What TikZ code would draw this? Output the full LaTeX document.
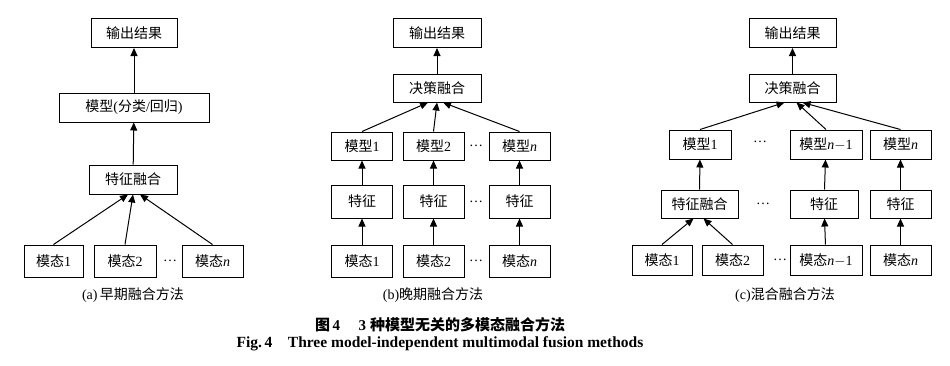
\documentclass[tikz,border=0pt]{standalone}
\usepackage{fontspec}
\setmainfont{Liberation Serif}
\newfontfamily\cjk{Noto Sans CJK SC}
\usetikzlibrary{arrows.meta,positioning}
\newcommand\zh[1]{{\cjk #1}}

\begin{document}
\begin{tikzpicture}[x=1pt,y=-1pt,
    box/.style={draw, line width=1pt, minimum width=#1, minimum height=29pt, inner sep=0pt, font=\fontsize{14}{16}\selectfont},
    box/.default=61pt,
    arr/.style={-{Triangle[length=8pt,width=7pt]}, line width=1pt},
    txt/.style={font=\fontsize{14}{16}\selectfont}
  ]
    \useasboundingbox (0,0) rectangle (950,365);
    % (a) early fusion
    \node[box=86pt] (aout) at (134,33) {\zh{输出结果}};
    \node[box=150pt] (amod) at (134,107.5) {\zh{模型}(\zh{分类}/\zh{回归})};
    \node[box=88pt] (afus) at (133,179.5) {\zh{特征融合}};
    \node[box=59pt,minimum height=32pt] (amod1) at (53.5,261) {\zh{模态}1};
    \node[box=62pt,minimum height=32pt] (amod2) at (125,261) {\zh{模态}2};
    \node[box=61pt,minimum height=32pt] (amodn) at (212.5,261) {\zh{模态}\textit{n}};
    \node[txt] (adots) at (170,261) {\ldots};
    \draw[arr] (amod1.north) -- ([xshift=-5pt]afus.south);
    \draw[arr] (amod2.north) -- (afus.south);
    \draw[arr] (amodn.north) -- ([xshift=7pt]afus.south);
    \draw[arr] (afus) -- (amod);
    \draw[arr] (amod) -- (aout);
    \node[txt] (acap) at (133,295) {(a)\,\zh{早期融合方法}};

    % (b) late fusion
    \node[box=88pt] (bout) at (437,33) {\zh{输出结果}};
    \node[box=88pt,minimum height=28pt] (bdec) at (437,88) {\zh{决策融合}};
    \foreach \i/\x/\s in {1/362/1, 2/433.5/2, n/519.5/\textit{n}} {
      \node[box,minimum height=28pt] (bmod\i) at (\x,146) {\zh{模型}\s};
      \node[box,minimum height=33pt] (bfeat\i) at (\x,201.5) {\zh{特征}};
      \node[box,minimum height=32pt] (bmodal\i) at (\x,261) {\zh{模态}\s};
      \draw[arr] (bmodal\i) -- (bfeat\i);
      \draw[arr] (bfeat\i) -- (bmod\i);
    }
    \node[txt] (bdots1) at (476,146) {\ldots};
    \node[txt] (bdots2) at (476,201.5) {\ldots};
    \node[txt] (bdots3) at (476,261) {\ldots};
    \draw[arr] (bmod1.north) -- ([xshift=-9pt]bdec.south);
    \draw[arr] (bmod2.north) -- (bdec.south);
    \draw[arr] (bmodn.north) -- ([xshift=6pt]bdec.south);
    \draw[arr] (bdec) -- (bout);
    \node[txt] (bcap) at (433,295) {(b)\zh{晚期融合方法}};

    % (c) hybrid fusion
    \node[box=87pt] (cout) at (792.5,33) {\zh{输出结果}};
    \node[box=87pt,minimum height=28pt] (cdec) at (792.5,88) {\zh{决策融合}};
    \node[box=62pt] (cmod1) at (700,144.5) {\zh{模型}1};
    \node[box=72pt] (cmodn1) at (826,144.5) {\zh{模型}\textit{n}$-$1};
    \node[box=61pt] (cmodn) at (900.5,144.5) {\zh{模型}\textit{n}};
    \node[box=77pt,minimum height=28pt] (cfus) at (699.5,204) {\zh{特征融合}};
    \node[box=68pt,minimum height=28pt] (cfeatn1) at (824,204) {\zh{特征}};
    \node[box=61pt,minimum height=28pt] (cfeatn) at (900.5,204) {\zh{特征}};
    \node[box=60pt,minimum height=30pt] (cmodal1) at (662,260) {\zh{模态}1};
    \node[box=61pt,minimum height=30pt] (cmodal2) at (732.5,260) {\zh{模态}2};
    \node[box=72pt,minimum height=30pt] (cmodaln1) at (826,260) {\zh{模态}\textit{n}$-$1};
    \node[box=61pt,minimum height=30pt] (cmodaln) at (900.5,260) {\zh{模态}\textit{n}};
    \node[txt] (cdots1) at (760,142) {\ldots};
    \node[txt] (cdots2) at (763,204) {\ldots};
    \node[txt] (cdots3) at (780,260) {\ldots};
    \draw[arr] (cmodal1.north) -- ([xshift=-6pt]cfus.south);
    \draw[arr] (cmodal2.north) -- ([xshift=4pt]cfus.south);
    \draw[arr] (cmodaln1) -- (cfeatn1);
    \draw[arr] (cmodaln) -- (cfeatn);
    \draw[arr] (cfus) -- (cmod1);
    \draw[arr] (cfeatn1) -- (cmodn1);
    \draw[arr] (cfeatn) -- (cmodn);
    \draw[arr] (cmod1.north) -- ([xshift=-8pt]cdec.south);
    \draw[arr] (cmodn1.north) -- ([xshift=4pt]cdec.south);
    \draw[arr] (cmodn.north) -- ([xshift=10pt]cdec.south);
    \draw[arr] (cdec) -- (cout);
    \node[txt] (ccap) at (785,295) {(c)\zh{混合融合方法}};

    % figure caption
    \node[font=\fontsize{15}{17}\selectfont\bfseries] (title) at (440,325) {\zh{图}\,4\quad\ 3\ \zh{种模型无关的多模态融合方法}};
    \node[font=\fontsize{15.5}{17}\selectfont\bfseries] (titleen) at (440,344) {Fig.\,4\quad Three model-independent multimodal fusion methods};
  \end{tikzpicture}
\end{document}
